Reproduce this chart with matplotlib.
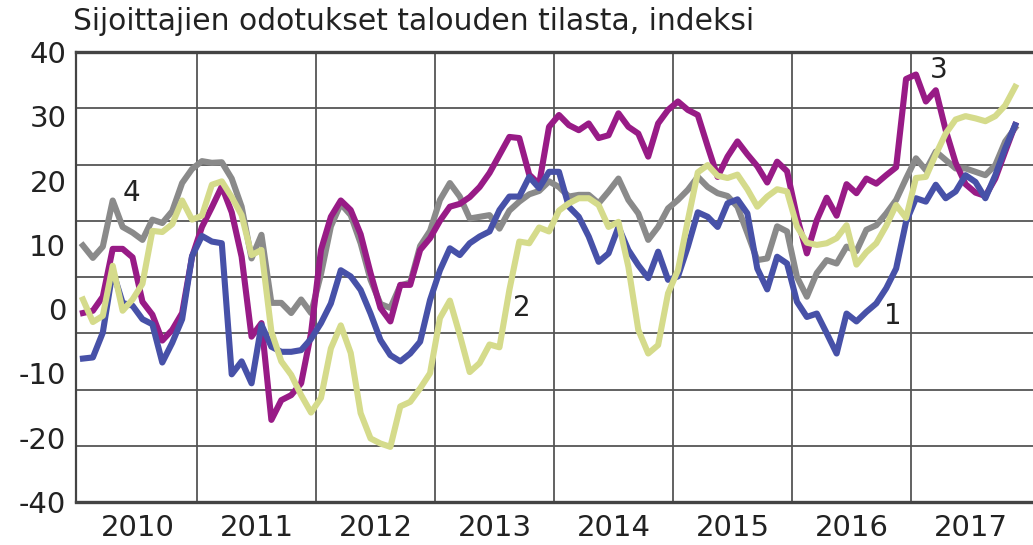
import numpy as np
import matplotlib
matplotlib.use("Agg")
import matplotlib.pyplot as plt

title = "Sijoittajien odotukset talouden tilasta, indeksi"
years = [2010, 2011, 2012, 2013, 2014, 2015, 2016, 2017]
ytick_labels = ["40", "30", "20", "10", "0", "-10", "-20", "-40"]

# monthly values Jan 2010 .. Nov 2017
s1_blue = [-14.5, -14.3, -9.9, 1.1, -4.6, -5.1, -7.5, -8.4, -15.2, -11.7, -7.5, 3.7,
           7.3, 6.3, 6.0, -17.3, -15.0, -18.9, -8.5, -12.4, -13.3, -13.3, -13.0, -11.0,
           -8.2, -4.7, 1.2, 0.1, -2.3, -6.5, -11.2, -13.9, -15.0, -13.6, -11.5, -4.1,
           1.2, 5.1, 3.9, 6.0, 7.2, 8.1, 11.9, 14.3, 14.3, 17.8, 15.8, 18.7,
           18.7, 12.5, 10.7, 7.2, 2.7, 4.2, 8.9, 4.8, 2.1, -0.2, 4.5, -0.5,
           0.1, 5.4, 11.5, 10.7, 8.9, 13.1, 13.8, 11.3, 1.5, -2.2, 3.6, 2.4,
           -4.4, -7.1, -6.5, -10.0, -13.6, -6.5, -7.9, -6.2, -4.7, -2.0, 1.5, 9.8,
           14.0, 13.4, 16.4, 14.0, 15.2, 18.1, 16.9, 14.0, 18.1, 22.9, 27.0]

s2_yellow = [-4.0, -8.0, -6.9, 2.0, -6.0, -4.0, -1.2, 8.2, 8.0, 9.4, 13.6, 10.2,
             10.9, 16.4, 17.0, 14.2, 11.0, 3.9, 4.8, -9.7, -15.0, -17.4, -21.0, -24.1,
             -21.5, -12.7, -8.6, -13.5, -24.2, -28.7, -29.6, -30.2, -23.0, -22.2, -19.8, -17.1,
             -7.3, -4.2, -10.3, -16.9, -15.3, -12.0, -12.5, -2.3, 6.3, 6.0, 8.8, 8.1,
             11.8, 13.1, 14.0, 14.0, 12.8, 8.9, 9.8, 1.8, -9.4, -13.6, -12.1, -2.9,
             1.2, 10.1, 18.6, 19.9, 18.0, 17.6, 18.2, 15.6, 12.5, 14.3, 15.6, 15.2,
             9.0, 6.1, 5.7, 6.0, 6.9, 9.2, 2.2, 4.4, 6.0, 9.1, 12.8, 10.5,
             17.6, 17.8, 21.8, 25.5, 28.0, 28.6, 28.2, 27.7, 28.6, 30.5, 33.8]

s3_magenta = [-6.4, -6.0, -3.5, 5.0, 5.0, 3.5, -4.4, -6.7, -11.3, -9.4, -6.4, 3.6,
              8.9, 12.4, 16.1, 11.5, 3.6, -10.6, -8.2, -25.4, -21.9, -21.0, -18.9, -10.0,
              4.8, 10.7, 13.6, 11.9, 7.6, 0.7, -5.5, -7.9, -1.4, -1.4, 4.8, 6.9,
              10.0, 12.5, 13.0, 14.2, 16.0, 18.5, 21.7, 24.9, 24.7, 18.2, 16.5, 26.7,
              28.8, 27.0, 26.1, 27.3, 24.7, 25.2, 29.1, 26.7, 25.5, 21.4, 27.3, 29.7,
              31.2, 29.7, 28.8, 23.2, 17.8, 21.4, 24.1, 21.8, 19.7, 16.8, 20.5, 18.8,
              10.7, 4.2, 10.1, 14.1, 10.9, 16.5, 14.9, 17.5, 16.6, 18.1, 19.5, 35.2,
              36.0, 31.2, 33.2, 26.1, 20.3, 16.5, 15.0, 14.4, 17.5, 22.3, 27.0]

s4_gray = [5.6, 3.4, 5.4, 13.6, 8.9, 7.9, 6.6, 10.2, 9.6, 11.7, 16.7, 19.2,
           20.6, 20.3, 20.4, 17.5, 12.5, 3.3, 7.5, -4.6, -4.6, -6.4, -4.0, -6.4,
           0.5, 9.0, 13.0, 11.0, 6.0, -0.5, -4.8, -5.5, -1.5, -1.0, 5.5, 8.2,
           13.7, 16.7, 14.3, 10.4, 10.7, 11.0, 8.6, 11.8, 13.4, 14.7, 15.3, 17.0,
           16.0, 14.3, 14.6, 14.6, 13.1, 15.2, 17.5, 13.7, 11.3, 6.6, 8.9, 12.2,
           13.7, 15.5, 17.8, 16.0, 14.9, 14.4, 12.5, 7.8, 3.0, 3.3, 9.0, 8.1,
           0.0, -3.5, 0.7, 3.0, 2.4, 5.4, 4.6, 8.4, 9.2, 11.3, 13.7, 17.5,
           21.1, 19.0, 22.3, 20.8, 19.3, 19.3, 18.7, 18.1, 19.9, 24.1, 26.5]

series_labels = ["1", "2", "3", "4"]
label_pos = [(2016.85, -6.9), (2013.73, -5.5), (2017.23, 36.8), (2010.45, 14.9)]

colors = {"1": "#4751a8", "2": "#d5db8b", "3": "#981b86", "4": "#8a8a8a"}

x = years[0] + (np.arange(len(s1_blue)) + 0.5) / 12.0

W, H = 1033, 545
fig = plt.figure(figsize=(W / 100, H / 100), dpi=100)
ax = fig.add_axes([76 / W, 1 - 502 / H, (W - 76) / W, (502 - 52) / H])

ax.set_xlim(years[0] - 2 / 119, years[-1] + 1 + 3 / 119)
ax.set_ylim(-40, 40)

lw = 4.4
ax.plot(x, s4_gray, color=colors["4"], lw=lw, zorder=3, solid_joinstyle="round")
ax.plot(x, s3_magenta, color=colors["3"], lw=lw, zorder=4, solid_joinstyle="round")
ax.plot(x, s1_blue, color=colors["1"], lw=lw, zorder=5, solid_joinstyle="round")
ax.plot(x, s2_yellow, color=colors["2"], lw=lw, zorder=6, solid_joinstyle="round")

for lab, (lx, ly) in zip(series_labels, label_pos):
    ax.text(lx, ly, lab, fontsize=20, color="#222222", ha="center", va="center", zorder=7)

# grid
ax.set_xticks([y + 1 for y in years[:-1]], minor=True)
ax.set_yticks(np.arange(-30, 40, 10), minor=True)
ax.grid(which="minor", color="#555555", lw=1.3, zorder=1)
ax.grid(which="major", visible=False)

ax.set_xticks([y + 0.5 for y in years])
ax.set_xticklabels([str(y) for y in years])
ax.set_yticks(np.linspace(40, -40, len(ytick_labels)))
ax.set_yticklabels(ytick_labels)
ax.tick_params(which="both", length=0)
ax.tick_params(axis="x", pad=9, labelsize=21, colors="#222222")
ax.tick_params(axis="y", pad=7, labelsize=21, colors="#222222")

for side in ["top", "bottom"]:
    ax.spines[side].set_linewidth(2.4)
    ax.spines[side].set_color("#444444")
ax.spines["left"].set_linewidth(1.6)
ax.spines["left"].set_color("#444444")
ax.spines["right"].set_visible(False)

fig.text(73 / W, 1 - 22 / H, title, fontsize=21.4, color="#222222", ha="left", va="center")

fig.savefig("out.png", dpi=100)
